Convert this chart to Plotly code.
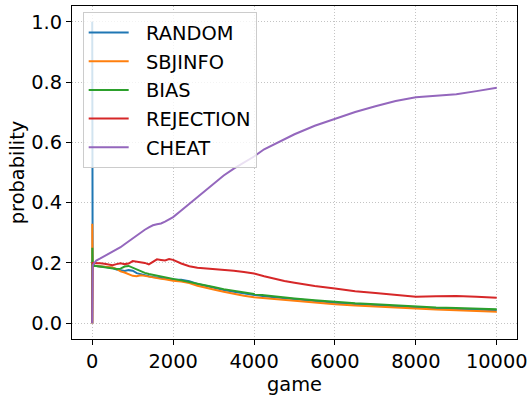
import plotly.graph_objects as go

game = [0, 1, 2, 3, 5, 10, 25, 50, 100, 200, 300, 400, 500, 600, 700, 800, 900,
        1000, 1100, 1200, 1300, 1400, 1500, 1600, 1700, 1800, 1900, 2000, 2200,
        2400, 2600, 2800, 3000, 3250, 3500, 3750, 4000, 4250, 4500, 4750, 5000,
        5500, 6000, 6500, 7000, 7500, 8000, 8500, 9000, 9500, 10000]

random_p = [1.0, 0.5, 0.33, 0.25, 0.21, 0.2, 0.195, 0.19, 0.19, 0.189, 0.188, 0.186,
            0.184, 0.178, 0.175, 0.173, 0.176, 0.174, 0.166, 0.162, 0.159, 0.156,
            0.153, 0.152, 0.151, 0.149, 0.147, 0.145, 0.144, 0.139, 0.13, 0.124,
            0.117, 0.11, 0.104, 0.099, 0.092, 0.089, 0.086, 0.083, 0.079, 0.073,
            0.068, 0.064, 0.06, 0.056, 0.052, 0.049, 0.047, 0.045, 0.043]

sbjinfo_p = [0.0, 0.33, 0.25, 0.22, 0.2, 0.197, 0.195, 0.19, 0.19, 0.189, 0.188, 0.187,
             0.185, 0.18, 0.172, 0.168, 0.162, 0.157, 0.156, 0.159, 0.157, 0.154,
             0.151, 0.148, 0.147, 0.146, 0.143, 0.141, 0.138, 0.133, 0.124, 0.119,
             0.112, 0.104, 0.097, 0.091, 0.086, 0.083, 0.08, 0.077, 0.075, 0.069,
             0.063, 0.059, 0.055, 0.052, 0.048, 0.045, 0.043, 0.041, 0.038]

bias_p = [0.0, 0.17, 0.25, 0.22, 0.2, 0.195, 0.193, 0.19, 0.19, 0.188, 0.186, 0.184,
          0.182, 0.18, 0.181, 0.188, 0.19, 0.184, 0.178, 0.172, 0.167, 0.163, 0.16,
          0.157, 0.155, 0.153, 0.15, 0.147, 0.142, 0.137, 0.132, 0.126, 0.12, 0.113,
          0.107, 0.102, 0.097, 0.093, 0.089, 0.085, 0.082, 0.076, 0.07, 0.066,
          0.063, 0.059, 0.055, 0.052, 0.05, 0.048, 0.046]

rejection_p = [0.0, 0.0, 0.15, 0.2, 0.2, 0.2, 0.2, 0.2, 0.2, 0.199, 0.197, 0.195,
               0.192, 0.196, 0.199, 0.196, 0.198, 0.206, 0.204, 0.202, 0.2, 0.195,
               0.203, 0.212, 0.21, 0.208, 0.213, 0.21, 0.198, 0.189, 0.184, 0.182,
               0.178, 0.176, 0.174, 0.17, 0.165, 0.156, 0.147, 0.14, 0.134, 0.123,
               0.115, 0.106, 0.1, 0.094, 0.088, 0.089, 0.09, 0.088, 0.084]

cheat_p = [0.0, 0.0, 0.0, 0.1, 0.17, 0.19, 0.195, 0.2, 0.208, 0.215, 0.222, 0.229,
           0.236, 0.245, 0.252, 0.262, 0.272, 0.281, 0.29, 0.3, 0.31, 0.318, 0.325,
           0.328, 0.331, 0.337, 0.344, 0.352, 0.374, 0.396, 0.419, 0.441, 0.46,
           0.49, 0.513, 0.532, 0.553, 0.577, 0.594, 0.611, 0.627, 0.655, 0.679,
           0.701, 0.72, 0.737, 0.75, 0.755, 0.76, 0.77, 0.781]

names = ["RANDOM", "SBJINFO", "BIAS", "REJECTION", "CHEAT"]
series = [random_p, sbjinfo_p, bias_p, rejection_p, cheat_p]
colors = ["#1f77b4", "#ff7f0e", "#2ca02c", "#d62728", "#9467bd"]

x_ticks = [0, 2000, 4000, 6000, 8000, 10000]
y_ticks = [0.0, 0.2, 0.4, 0.6, 0.8, 1.0]

FONT = "DejaVu Sans"
FS = 19.4
PAD = "\u00a0\u00a0"

fig = go.Figure()
for name, vals, col in zip(names, series, colors):
    fig.add_trace(go.Scatter(x=game, y=vals, mode="lines", name=PAD + name,
                             legendgroup=name,
                             line=dict(color=col, width=2)))

axis_common = dict(
    showline=True, linecolor="black", linewidth=1, mirror=True,
    ticks="outside", ticklen=5, tickwidth=1, tickcolor="black",
    showgrid=True, gridcolor="#c4c4c4", gridwidth=1, griddash="1px,2px",
    zeroline=False,
    tickfont=dict(family=FONT, size=FS, color="black"),
)

fig.update_xaxes(range=[-500, 10500], tickvals=x_ticks, tickformat="d",
                 title=dict(text="game", font=dict(family=FONT, size=FS, color="black"),
                            standoff=4),
                 **axis_common)
fig.update_yaxes(range=[-0.0525, 1.0525], tickvals=y_ticks, tickformat=".1f",
                 title=dict(text="probability", font=dict(family=FONT, size=FS, color="black"),
                            standoff=1),
                 **axis_common)

fig.update_layout(
    width=532, height=396,
    margin=dict(l=72, r=12, t=5, b=57),
    paper_bgcolor="white", plot_bgcolor="white",
    font=dict(family=FONT, size=FS, color="black"),
    legend=dict(x=0.024, y=0.981, xanchor="left", yanchor="top",
                bgcolor="rgba(255,255,255,0.8)", bordercolor="#cccccc", borderwidth=1,
                font=dict(family=FONT, size=FS, color="black"),
                tracegroupgap=0.5, itemwidth=40),
    showlegend=True,
)

fig.write_html("out.html", config={"displayModeBar": False},
               post_script="document.body.style.margin='0';document.body.style.padding='0';")
